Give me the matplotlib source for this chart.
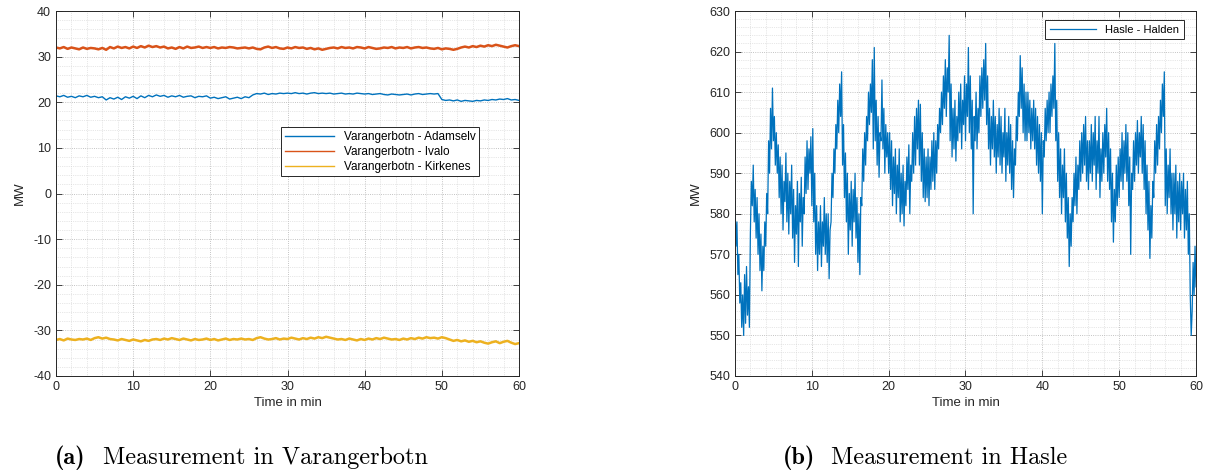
import numpy as np
import matplotlib
matplotlib.use('Agg')
import matplotlib.pyplot as plt
from matplotlib.ticker import MultipleLocator

# Varangerbotn, one value every 0.5 min (0..60)
adamselv = [21.4, 21.2, 21.5, 21.1, 21.3, 21.0, 21.4, 21.2, 21.5, 21.1,
            21.3, 21.0, 21.2, 20.5, 21.0, 20.7, 21.1, 20.6, 21.2, 20.9,
            21.3, 20.8, 21.4, 21.0, 21.5, 21.2, 21.6, 21.3, 21.5, 21.1,
            21.4, 21.2, 21.5, 21.1, 21.3, 21.4, 21.0, 21.3, 21.2, 21.4,
            20.9, 21.1, 20.8, 21.0, 21.2, 20.7, 20.9, 21.1, 20.8, 21.2,
            21.0, 21.6, 21.9, 21.8, 22.0, 21.7, 21.9, 21.8, 22.0, 21.9,
            22.0, 21.9, 22.1, 21.9, 22.0, 21.8, 22.0, 22.1, 21.9, 22.0,
            21.9, 22.0, 21.8, 21.9, 22.0, 21.8, 21.9, 21.8, 22.0, 21.9,
            21.8, 21.9, 21.7, 21.8, 21.9, 21.7, 21.6, 21.8, 21.7, 21.6,
            21.7, 21.8, 21.6, 21.8, 21.9, 21.7, 21.8, 21.9, 21.8, 21.9,
            20.6, 20.4, 20.5, 20.3, 20.5, 20.2, 20.4, 20.3, 20.2, 20.4,
            20.3, 20.5, 20.4, 20.6, 20.5, 20.7, 20.6, 20.8, 20.5, 20.6,
            20.4]
ivalo = [32.0, 31.8, 32.1, 31.7, 32.0, 31.8, 31.6, 32.0, 31.7, 31.9,
         31.8, 31.6, 31.9, 31.5, 32.1, 31.8, 32.2, 31.9, 32.1, 31.8,
         32.2, 31.9, 32.3, 32.0, 32.4, 32.1, 32.3, 32.0, 32.2, 31.8,
         32.0, 31.7, 32.1, 31.8, 32.2, 31.9, 32.0, 32.2, 31.9, 32.1,
         31.9, 32.1, 31.8, 32.0, 31.9, 32.1, 32.0, 31.8, 31.9, 32.0,
         31.8, 32.0, 31.7, 31.6, 32.0, 32.2, 31.9, 32.1, 31.8, 31.7,
         32.0, 31.8, 32.1, 31.9, 32.0, 31.7, 31.9, 31.6, 31.8, 31.5,
         31.7, 31.9, 32.0, 31.8, 32.1, 31.9, 32.0, 31.8, 32.1, 32.0,
         31.8, 32.1, 31.9, 31.7, 31.8, 32.0, 31.9, 32.1, 31.8, 32.0,
         31.9, 32.1, 31.8, 32.0, 32.1, 31.9, 32.0, 31.8, 31.7, 31.9,
         31.6, 31.8, 31.7, 31.5, 31.7, 32.0, 32.2, 32.0, 32.3, 32.1,
         32.4, 32.2, 32.5, 32.3, 32.6, 32.4, 32.2, 32.0, 32.3, 32.5,
         32.3]
kirkenes = [-32.1, -31.9, -32.2, -31.8, -32.0, -32.1, -31.9, -32.0, -31.8, -32.1,
            -31.7, -31.5, -31.8, -31.6, -31.9, -32.0, -32.2, -31.9, -32.1, -32.3,
            -32.0, -32.2, -32.4, -32.1, -32.3, -32.0, -31.9, -32.1, -31.8, -32.0,
            -31.7, -31.9, -32.1, -31.8, -32.0, -32.2, -31.9, -32.1, -32.0, -31.8,
            -32.1, -31.9, -32.2, -32.0, -31.8, -32.1, -31.9, -32.0, -31.8, -32.0,
            -31.9, -32.1, -31.7, -31.5, -31.8, -32.0, -31.9, -31.7, -32.0, -31.8,
            -31.9, -31.6, -31.8, -32.0, -31.7, -31.9, -31.6, -31.8, -31.5, -31.7,
            -31.4, -31.6, -31.8, -32.0, -31.9, -32.1, -31.8, -32.0, -32.2, -31.9,
            -32.1, -31.8, -32.0, -31.7, -31.9, -31.6, -31.8, -32.0, -31.9, -32.1,
            -31.8, -32.0, -31.7, -31.9, -31.6, -31.8, -31.5, -31.7, -31.6, -31.8,
            -31.5, -31.7, -32.0, -32.3, -32.1, -32.4, -32.2, -32.5, -32.3, -32.6,
            -32.4, -32.7, -32.9, -32.6, -32.4, -32.8, -32.5, -32.3, -32.7, -33.0,
            -32.8]

# Hasle - Halden, 8 values per minute (0..60)
hasle = [583, 572, 578, 565, 570, 558, 563, 552,
         560, 550, 565, 553, 567, 555, 562, 552,
         575, 588, 582, 592, 578, 586, 574, 584,
         570, 580, 566, 575, 561, 572, 566, 578,
         572, 585, 580, 598, 590, 606, 596, 611,
         598, 604, 592, 600, 590, 597, 584, 594,
         580, 592, 576, 588, 583, 595, 578, 590,
         575, 588, 580, 592, 574, 586, 568, 582,
         575, 588, 567, 585, 578, 589, 572, 584,
         580, 594, 585, 598, 586, 596, 590, 599,
         582, 601, 578, 590, 570, 582, 566, 578,
         570, 582, 567, 578, 572, 584, 570, 580,
         568, 580, 564, 576, 578, 590, 584, 596,
         590, 602, 596, 608, 600, 612, 604, 615,
         592, 602, 584, 595, 578, 590, 570, 585,
         576, 588, 572, 586, 578, 590, 574, 584,
         568, 580, 565, 584, 582, 596, 588, 600,
         592, 604, 598, 610, 602, 612, 605, 618,
         596, 621, 598, 608, 592, 604, 589, 600,
         598, 613, 596, 606, 590, 602, 594, 600,
         590, 600, 586, 598, 582, 594, 585, 596,
         580, 592, 584, 596, 578, 590, 580, 592,
         577, 588, 582, 594, 586, 597, 580, 592,
         588, 600, 590, 604, 592, 606, 596, 608,
         592, 607, 588, 600, 584, 596, 583, 594,
         584, 596, 582, 594, 586, 598, 588, 600,
         586, 598, 590, 602, 596, 606, 600, 610,
         602, 614, 606, 618, 604, 616, 610, 624,
         598, 612, 594, 606, 596, 608, 593, 604,
         598, 610, 600, 612, 596, 608, 602, 614,
         598, 612, 604, 621, 600, 614, 596, 608,
         580, 604, 598, 610, 596, 606, 600, 614,
         604, 616, 606, 618, 608, 622, 602, 614,
         596, 606, 592, 604, 596, 608, 594, 604,
         590, 602, 594, 606, 592, 604, 590, 600,
         594, 606, 588, 600, 592, 604, 590, 602,
         586, 598, 584, 596, 592, 604, 598, 610,
         604, 619, 606, 616, 600, 612, 598, 610,
         598, 610, 600, 608, 596, 606, 598, 608,
         596, 606, 592, 604, 590, 602, 588, 600,
         580, 598, 594, 606, 598, 608, 600, 610,
         600, 612, 604, 614, 606, 622, 598, 608,
         588, 600, 584, 596, 580, 592, 584, 596,
         578, 590, 574, 584, 567, 580, 572, 584,
         578, 590, 582, 594, 580, 592, 586, 598,
         588, 600, 590, 602, 592, 604, 588, 598,
         586, 598, 590, 602, 588, 600, 592, 604,
         586, 598, 590, 604, 584, 596, 588, 600,
         590, 602, 594, 606, 588, 600, 586, 596,
         578, 590, 573, 586, 578, 592, 582, 594,
         584, 596, 588, 600, 586, 598, 590, 602,
         588, 600, 582, 594, 570, 590, 586, 598,
         588, 600, 592, 603, 590, 600, 594, 604,
         590, 602, 586, 598, 580, 592, 576, 588,
         569, 582, 574, 588, 584, 598, 590, 602,
         592, 604, 596, 608, 600, 612, 604, 615,
         582, 596, 580, 592, 584, 596, 580, 590,
         576, 590, 580, 592, 574, 588, 578, 590,
         576, 588, 580, 590, 574, 586, 576, 588,
         570, 580, 560, 550, 556, 568, 560, 572,
         562]

t_var = np.linspace(0, 60, len(adamselv))
t_has = np.linspace(0, 60, len(hasle))

labels_var = ['Varangerbotn - Adamselv', 'Varangerbotn - Ivalo', 'Varangerbotn - Kirkenes']
colors = ['#0072BD', '#D95319', '#EDB120']

plt.rcParams['font.family'] = ['Liberation Sans', 'DejaVu Sans']
plt.rcParams['axes.unicode_minus'] = False
txt = '#262626'


def style_axes(ax, ymin, ymax):
    ax.set_xlim(0, 60)
    ax.set_ylim(ymin, ymax)
    ax.xaxis.set_major_locator(MultipleLocator(10))
    ax.yaxis.set_major_locator(MultipleLocator(10))
    ax.xaxis.set_minor_locator(MultipleLocator(2))
    ax.yaxis.set_minor_locator(MultipleLocator(2))
    ax.tick_params(which='both', direction='in', top=True, right=True,
                   colors=txt, labelsize=9, width=0.6)
    ax.tick_params(which='major', length=4)
    ax.tick_params(which='minor', length=0)
    ax.grid(which='major', linestyle=':', color='#b0b0b0', linewidth=0.6)
    ax.grid(which='minor', linestyle=':', color='#d0d0d0', linewidth=0.5)
    for s in ax.spines.values():
        s.set_color(txt)
        s.set_linewidth(0.7)
    ax.set_xlabel('Time in min', fontsize=9.5, color=txt, labelpad=3)
    ax.set_ylabel('MW', fontsize=9.5, color=txt, labelpad=5)


fig = plt.figure(figsize=(12.1, 4.74), dpi=100)
ax1 = fig.add_axes([56 / 1210, 98 / 474, 463 / 1210, 365 / 474])
ax2 = fig.add_axes([735 / 1210, 98 / 474, 461 / 1210, 365 / 474])

for y, lab, c in zip([adamselv, ivalo, kirkenes], labels_var, colors):
    lw = 1.0 if c == '#0072BD' else 1.8
    ax1.plot(t_var, y, color=c, linewidth=lw, label=lab)
style_axes(ax1, -40, 40)
leg1 = ax1.legend(loc='center', bbox_to_anchor=(0.70, 0.614), fontsize=8.5,
                  fancybox=False, edgecolor=txt, framealpha=1, handlelength=4.2,
                  borderpad=0.3, labelspacing=0.25)
leg1.get_frame().set_linewidth(0.7)
for h in leg1.get_lines():
    h.set_linewidth(1.0)

ax2.plot(t_has, hasle, color='#0072BD', linewidth=0.9, label='Hasle - Halden')
style_axes(ax2, 540, 630)
leg2 = ax2.legend(loc='upper right', bbox_to_anchor=(0.985, 0.99), fontsize=8,
                  fancybox=False, edgecolor=txt, framealpha=1, handlelength=4.2,
                  borderpad=0.4)
leg2.get_frame().set_linewidth(0.7)

# captions
fig.text(55 / 1210, 16 / 474, '(a)', family='cmb10', fontsize=17.5, va='center')
fig.text(103 / 1210, 16 / 474, 'Measurement in Varangerbotn', family='cmr10',
         fontsize=17.5, va='center')
fig.text(783 / 1210, 16 / 474, '(b)', family='cmb10', fontsize=17.5, va='center')
fig.text(831 / 1210, 16 / 474, 'Measurement in Hasle', family='cmr10',
         fontsize=17.5, va='center')

fig.savefig('out.png', dpi=100)
